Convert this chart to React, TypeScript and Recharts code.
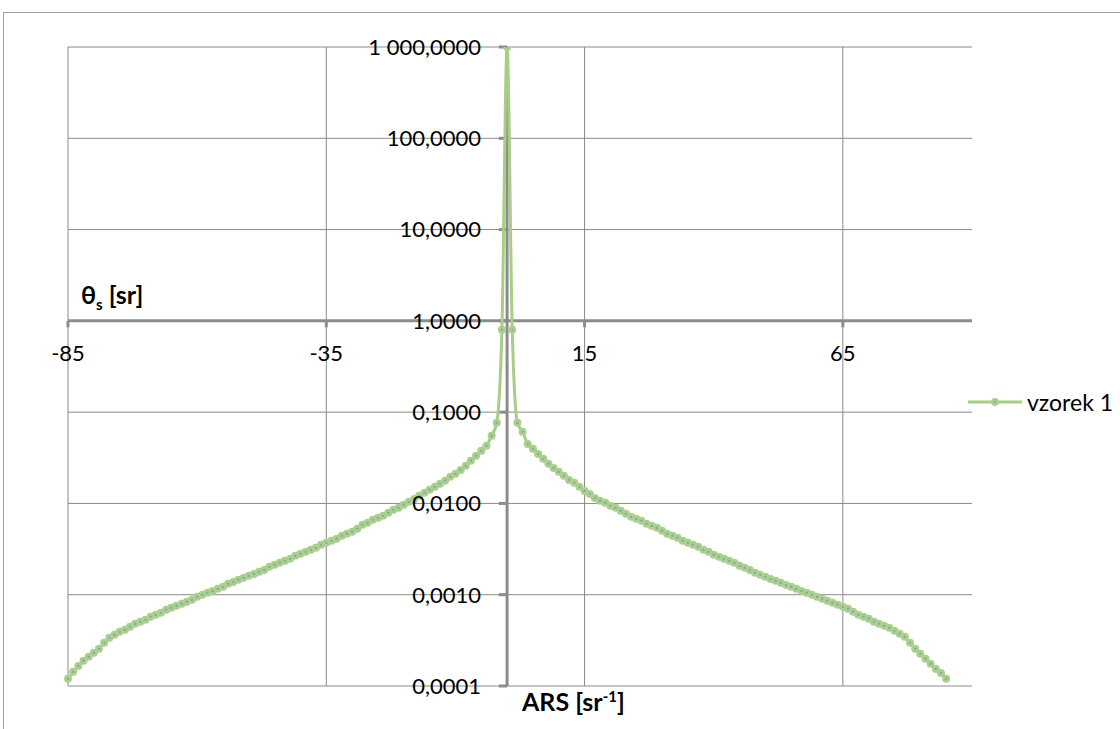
import React from 'react';
import { LineChart, Line, XAxis, YAxis, CartesianGrid, ReferenceLine, ReferenceDot } from 'recharts';

// scattering angle, degrees
const angles = [
  -85, -84, -83, -82, -81, -80, -79, -78, -77, -76, -75, -74, -73, -72, -71, -70, -69, -68, -67, -66,
  -65, -64, -63, -62, -61, -60, -59, -58, -57, -56, -55, -54, -53, -52, -51, -50, -49, -48, -47, -46,
  -45, -44, -43, -42, -41, -40, -39, -38, -37, -36, -35, -34, -33, -32, -31, -30, -29, -28, -27, -26,
  -25, -24, -23, -22, -21, -20, -19, -18, -17, -16, -15, -14, -13, -12, -11, -10, -9, -8, -7, -6,
  -5, -4, -3, -2, -1, 0, 1, 2, 3, 4, 5, 6, 7, 8, 9, 10, 11, 12, 13, 14,
  15, 16, 17, 18, 19, 20, 21, 22, 23, 24, 25, 26, 27, 28, 29, 30, 31, 32, 33, 34,
  35, 36, 37, 38, 39, 40, 41, 42, 43, 44, 45, 46, 47, 48, 49, 50, 51, 52, 53, 54,
  55, 56, 57, 58, 59, 60, 61, 62, 63, 64, 65, 66, 67, 68, 69, 70, 71, 72, 73, 74,
  75, 76, 77, 78, 79, 80, 81, 82, 83, 84, 85,
];

// vzorek 1
const vzorek1 = [
  0.00012, 0.000143, 0.000166, 0.000189, 0.000209, 0.000231, 0.000256, 0.000297, 0.000337, 0.000364,
  0.000392, 0.000413, 0.000445, 0.00048, 0.000505, 0.000531, 0.000573, 0.000602, 0.000633, 0.000684,
  0.000719, 0.000756, 0.000795, 0.000836, 0.000879, 0.000948, 0.000997, 0.00105, 0.0011, 0.00116,
  0.00122, 0.00132, 0.00138, 0.00146, 0.00153, 0.00161, 0.00169, 0.00178, 0.00187, 0.00202,
  0.00213, 0.00224, 0.00235, 0.00247, 0.00267, 0.00281, 0.00295, 0.0031, 0.00326, 0.00352,
  0.0037, 0.0039, 0.0041, 0.00442, 0.00465, 0.00489, 0.00527, 0.00583, 0.00613, 0.00661,
  0.00695, 0.00731, 0.00789, 0.00851, 0.00895, 0.00966, 0.0104, 0.0112, 0.0121, 0.0131,
  0.0141, 0.0152, 0.0164, 0.0177, 0.0196, 0.0211, 0.0233, 0.0258, 0.0293, 0.0332,
  0.0377, 0.0428, 0.055, 0.0763, 0.797, 1000, 0.797, 0.0763, 0.0608, 0.0449,
  0.0396, 0.0349, 0.0308, 0.0272, 0.0245, 0.0222, 0.0201, 0.0181, 0.0168, 0.0152,
  0.0137, 0.0127, 0.0115, 0.0107, 0.0102, 0.00941, 0.00895, 0.0083, 0.00769, 0.00713,
  0.00678, 0.00645, 0.00598, 0.00568, 0.0054, 0.00501, 0.00465, 0.00442, 0.0042, 0.0039,
  0.0037, 0.00352, 0.00335, 0.0031, 0.00295, 0.00274, 0.0026, 0.00247, 0.00235, 0.00224,
  0.00207, 0.00197, 0.00187, 0.00174, 0.00165, 0.00157, 0.00149, 0.00142, 0.00135, 0.00128,
  0.00122, 0.00116, 0.0011, 0.00105, 0.000997, 0.000948, 0.000902, 0.000857, 0.000815, 0.000775,
  0.000737, 0.000701, 0.00065, 0.000602, 0.000573, 0.000545, 0.000505, 0.00048, 0.000456, 0.000434,
  0.000402, 0.000373, 0.000346, 0.000297, 0.000256, 0.000225, 0.000199, 0.000175, 0.000154, 0.000139,
  0.00012,
];

const xTicks = [-85, -35, 15, 65];
const yTicks = [0.0001, 0.001, 0.01, 0.1, 1, 10, 100, 1000];
const yTickLabels = ['0,0001', '0,0010', '0,0100', '0,1000', '1,0000', '10,0000', '100,0000', '1 000,0000'];

const data = angles.map((a, i) => ({ angle: a, v: vzorek1[i] }));

const GREEN = '#A8CD84';
const DOT = '#A9D18E';
const AXIS = '#8C8C8C';
const GRID = '#8A8A8A';
const FONT = 'Lato, "Open Sans", sans-serif';

const renderDot = (p: any) => (
  <g key={`dot-${p.index}`}>
    <circle cx={p.cx} cy={p.cy} r={4} fill={DOT} />
    <circle cx={p.cx} cy={p.cy} r={1.2} fill="#9C9CB0" />
  </g>
);

export default function App() {
  return (
    <div style={{ position: 'fixed', left: 0, top: 0, width: 1120, height: 729, overflow: 'hidden', background: '#fff', fontFamily: FONT }}>
      <div style={{ position: 'absolute', left: 3, top: 12, width: 1300, height: 900, border: '1px solid #A0A0A0' }} />

      <div style={{ position: 'absolute', left: 0, top: 0 }}>
        <LineChart width={1120} height={729} data={data} margin={{ top: 47, left: 68, right: 148, bottom: 43 }}>
          <XAxis dataKey="angle" type="number" domain={[-85, 90]} ticks={xTicks} hide />
          <YAxis type="number" scale="log" domain={[0.0001, 1000]} ticks={yTicks} allowDataOverflow hide />
          <CartesianGrid stroke={GRID} strokeWidth={1} horizontalValues={yTicks} verticalValues={xTicks} />

          <ReferenceLine y={1} stroke={AXIS} strokeWidth={3} />
          <ReferenceLine x={0} stroke={AXIS} strokeWidth={3} />
          {xTicks.map((t) => (
            <ReferenceLine key={`xt${t}`} segment={[{ x: t, y: 1 }, { x: t, y: 0.85 }]} stroke={AXIS} strokeWidth={3} />
          ))}
          {yTicks.map((t) => (
            <ReferenceLine key={`yt${t}`} segment={[{ x: -1.6, y: t }, { x: 0, y: t }]} stroke={AXIS} strokeWidth={3} />
          ))}

          <Line
            type="monotone"
            dataKey="v"
            stroke={GREEN}
            strokeWidth={3}
            dot={renderDot}
            activeDot={false}
            isAnimationActive={false}
          />

          {xTicks.map((t) => (
            <ReferenceDot
              key={`xl${t}`}
              x={t}
              y={1}
              r={0}
              fill="none"
              stroke="none"
              label={{ value: String(t), position: 'bottom', offset: 25, fill: '#000', fontSize: 22, fontFamily: FONT }}
            />
          ))}
          {yTicks.map((t, i) => (
            <ReferenceDot
              key={`yl${t}`}
              x={0}
              y={t}
              r={0}
              fill="none"
              stroke="none"
              label={{ value: yTickLabels[i], position: 'left', offset: 26, fill: '#000', fontSize: 22, fontFamily: FONT }}
            />
          ))}
        </LineChart>
      </div>

      <div style={{ position: 'absolute', left: 81, top: 279, fontSize: 25, fontWeight: 700, color: '#000', whiteSpace: 'nowrap' }}>
        θ<sub style={{ fontSize: 15 }}>s</sub> [sr]
      </div>
      <div style={{ position: 'absolute', left: 522, top: 686, fontSize: 25, fontWeight: 700, color: '#000', whiteSpace: 'nowrap' }}>
        ARS [sr<sup style={{ fontSize: 15 }}>-1</sup>]
      </div>

      <div style={{ position: 'absolute', left: 967, top: 388, display: 'flex', alignItems: 'center', whiteSpace: 'nowrap' }}>
        <svg width={56} height={14}>
          <line x1={1} y1={7} x2={55} y2={7} stroke={GREEN} strokeWidth={3} />
          <circle cx={28} cy={7} r={4} fill={DOT} />
          <circle cx={28} cy={7} r={1.2} fill="#9C9CB0" />
        </svg>
        <span style={{ fontSize: 23, color: '#000', marginLeft: 4 }}>vzorek 1</span>
      </div>
    </div>
  );
}
